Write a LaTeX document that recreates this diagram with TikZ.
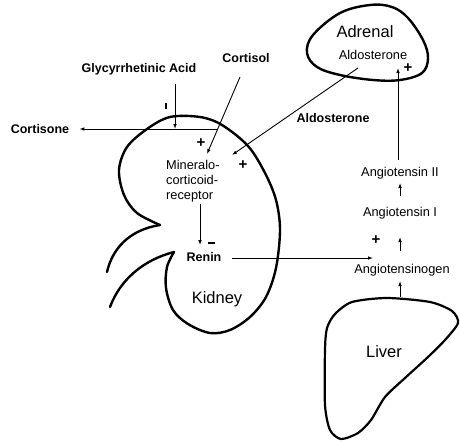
\documentclass[tikz,border=0pt]{standalone}
\usepackage{fontspec}
\setmainfont{Liberation Sans}
\usetikzlibrary{arrows.meta}
\begin{document}
\begin{tikzpicture}[x=1pt,y=-1pt,
  lbl/.style={inner sep=0pt,font=\fontsize{12.8}{15}\selectfont},
  blbl/.style={inner sep=0pt,font=\fontsize{12.5}{15}\selectfont\bfseries},
  big/.style={inner sep=0pt,font=\fontsize{16.5}{19}\selectfont},
  sgn/.style={inner sep=0pt,font=\fontsize{15}{16}\selectfont\bfseries},
  organ/.style={line width=2.4pt,line join=round,line cap=round},
  arr/.style={line width=0.9pt,-{Latex[length=5pt,width=3.6pt]}},
  ln/.style={line width=0.9pt}]
\useasboundingbox (0,0) rectangle (460,442);
% kidney
\draw[organ] plot[smooth,tension=0.55] coordinates {(160,225) (137,213) (124,195) (119,170) (127,147) (147,129) (170,117) (200,117) (222,125) (248,146) (265,173) (276,200) (280,230) (276,268) (266,297) (250,317) (230,330) (210,333) (188,324) (173,310) (166,288) (167,267) (174,252)};
\draw[organ] (160,225) .. controls (128,230) and (112,250) .. (107,272);
\draw[organ] (174,252) .. controls (143,260) and (120,280) .. (110,307);
% adrenal
\draw[organ] plot[smooth cycle,tension=0.6] coordinates {(340,13) (370,5) (392,7) (408,18) (423,40) (428,58) (422,73) (400,80) (373,80) (340,75) (317,67) (307,53) (313,35)};
% liver
\draw[organ,line width=2.2pt] plot[smooth cycle,tension=0.45] coordinates {(335,314) (352,302) (387,298) (430,302) (452,311) (458,323) (445,340) (428,357) (405,378) (385,397) (371,420) (358,433) (341,439) (330,430) (325,405) (325,350) (327,328)};
% labels
\node[blbl] (gly) at (139,69) {Glycyrrhetinic Acid};
\node[blbl] (cortisol) at (246,58) {Cortisol};
\node[blbl] (cortisone) at (40,129) {Cortisone};
\node[blbl] (aldolbl) at (333,118) {Aldosterone};
\node[big] (adrenal) at (365,32) {Adrenal};
\node[lbl] (aldo) at (373,55) {Aldosterone};
\node[lbl] (ang2) at (400,173) {Angiotensin II};
\node[lbl] (ang1) at (400,213) {Angiotensin I};
\node[lbl] (angen) at (402,270) {Angiotensinogen};
\node[blbl] (renin) at (204,257) {Renin};
\node[lbl,anchor=west,align=left] (mcr) at (166,181) {Mineralo-\\corticoid-\\receptor};
\node[big] (kidney) at (217,299) {Kidney};
\node[big] (liver) at (384,352) {Liver};
% signs
\node[sgn] (p1) at (201,143) {+};
\node[sgn] (p2) at (243,165) {+};
\node[sgn] (p3) at (408,68) {+};
\node[sgn] (p4) at (376,240) {+};
\coordinate (m1a) at (166,103); \coordinate (m1b) at (166,109);
\draw[ln,line width=1.3pt] (m1a) -- (m1b);
\coordinate (m2a) at (208,243); \coordinate (m2b) at (215,243);
\draw[ln,line width=1.2pt] (m2a) -- (m2b);
% arrows
\coordinate (cse) at (218,129);
\draw[arr] (cse) -- ([xshift=10pt]cortisone.east);
\coordinate (g1) at (175,84); \coordinate (g2) at (175,129);
\draw[arr] (g1) -- (g2);
\coordinate (c1) at (240,77); \coordinate (c2) at (207,154);
\draw[arr] (c1) -- (c2);
\coordinate (a1) at (358,68); \coordinate (a2) at (232,155);
\draw[arr] (a1) -- (a2);
\coordinate (r1) at (200,204); \coordinate (r2) at (200,245);
\draw[arr] (r1) -- (r2);
\coordinate (rn1) at (232,258); \coordinate (rn2) at (373,258);
\draw[arr] (rn1) -- (rn2);
\coordinate (v1) at (398,160); \coordinate (v2) at (398,68);
\draw[arr] (v1) -- (v2);
\coordinate (s1) at (400,196); \coordinate (s2) at (400,183);
\draw[arr] (s1) -- (s2);
\coordinate (t1) at (400,251); \coordinate (t2) at (400,237);
\draw[arr] (t1) -- (t2);
\coordinate (u1) at (400,297); \coordinate (u2) at (400,281);
\draw[arr] (u1) -- (u2);
\end{tikzpicture}
\end{document}
